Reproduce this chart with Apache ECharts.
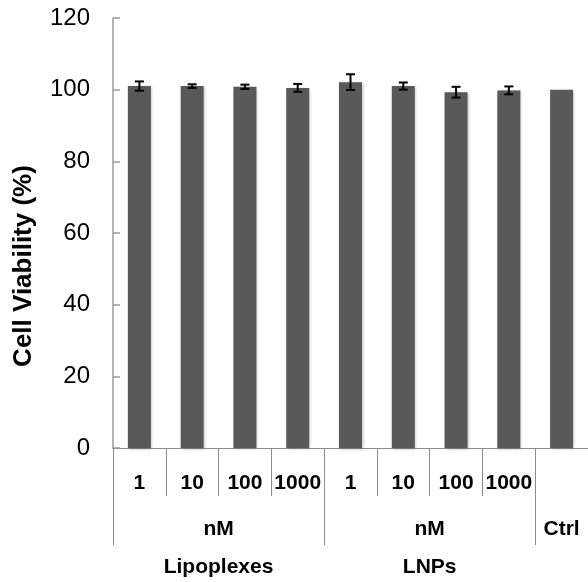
<!DOCTYPE html>
<html>
<head>
<meta charset="utf-8">
<script src="https://cdn.jsdelivr.net/npm/echarts@6/dist/echarts.min.js"></script>
<style>
html, body { margin: 0; padding: 0; background: #fff; }
#mychart { width: 588px; height: 582px; }
</style>
</head>
<body>
<div id="mychart"></div>
<script>
// 数据
const concLabels = ['1', '10', '100', '1000', '1', '10', '100', '1000', ''];
const viability = [101.0, 101.0, 100.8, 100.5, 102.1, 101.0, 99.3, 99.8, 100.0];
const errors = [1.3, 0.5, 0.6, 1.1, 2.2, 1.0, 1.5, 1.1, 0];
const groupUnits = ['nM', 'nM', 'Ctrl'];
const groupNames = ['Lipoplexes', 'LNPs', ''];
const groupSizes = [4, 4, 1];
const yTicks = [0, 20, 40, 60, 80, 100, 120];

// 分组边界和中心
let groupEdges = [0];
let groupCenters = [];
groupSizes.forEach(s => {
    let start = groupEdges[groupEdges.length - 1];
    groupCenters.push(start + s / 2);
    groupEdges.push(start + s);
});
const nCat = concLabels.length;

let myEcharts = echarts.init(document.getElementById('mychart'));
const grey = '#8c8c8c';
const labelFont = 'Liberation Sans, Arial, sans-serif';

let option = {
    animation: false,
    grid: {
        left: 113,
        top: 18,
        bottom: 134,
        width: 479
    },
    xAxis: [
        {
            type: 'category',
            data: concLabels,
            axisLine: { lineStyle: { color: grey, width: 1 } },
            axisTick: { show: true, interval: 0, length: 48, lineStyle: { color: grey } },
            axisLabel: {
                interval: 0,
                margin: 25,
                color: '#000',
                fontSize: 21,
                fontWeight: 'bold',
                fontFamily: labelFont
            },
            splitLine: { show: false }
        },
        {
            type: 'value',
            min: 0,
            max: nCat,
            position: 'bottom',
            axisLine: { show: false },
            axisTick: { show: true, length: 97, customValues: groupEdges, lineStyle: { color: grey } },
            axisLabel: {
                customValues: groupCenters,
                margin: 71,
                color: '#000',
                fontSize: 21,
                fontWeight: 'bold',
                fontFamily: labelFont,
                formatter: v => groupUnits[groupCenters.indexOf(v)] || ''
            },
            splitLine: { show: false }
        },
        {
            type: 'value',
            min: 0,
            max: nCat,
            position: 'bottom',
            axisLine: { show: false },
            axisTick: { show: false },
            axisLabel: {
                customValues: groupCenters,
                margin: 109,
                color: '#000',
                fontSize: 21,
                fontWeight: 'bold',
                fontFamily: labelFont,
                formatter: v => groupNames[groupCenters.indexOf(v)] || ''
            },
            splitLine: { show: false }
        }
    ],
    yAxis: {
        type: 'value',
        min: 0,
        max: yTicks[yTicks.length - 1],
        interval: yTicks[1] - yTicks[0],
        name: 'Cell Viability (%)',
        nameLocation: 'middle',
        nameGap: 76,
        nameTextStyle: {
            color: '#000',
            fontSize: 26,
            fontWeight: 'bold',
            fontFamily: labelFont,
            padding: [0, 66, 0, 0]
        },
        axisLine: { show: true, lineStyle: { color: '#9a9a9a', width: 1.5 } },
        axisTick: { show: true, inside: true, length: 7, lineStyle: { color: '#9a9a9a', width: 1.5 } },
        axisLabel: {
            margin: 23,
            color: '#000',
            fontSize: 24,
            fontFamily: labelFont
        },
        splitLine: { show: false }
    },
    series: [
        {
            type: 'bar',
            xAxisIndex: 0,
            data: viability,
            barWidth: 23,
            itemStyle: {
                color: '#595959',
                shadowColor: 'rgba(0,0,0,0.25)',
                shadowBlur: 3,
                shadowOffsetX: 1,
                shadowOffsetY: 1
            }
        },
        {
            type: 'custom',
            xAxisIndex: 0,
            data: viability.map((v, i) => [i, v, errors[i]]),
            z: 10,
            renderItem: (params, api) => {
                let err = api.value(2);
                if (!err) return null;
                let top = api.coord([api.value(0), api.value(1) + err]);
                let bot = api.coord([api.value(0), api.value(1) - err]);
                let x = top[0], hw = 4.5;
                let style = { stroke: '#000', lineWidth: 2 };
                return {
                    type: 'group',
                    children: [
                        { type: 'line', shape: { x1: x, y1: top[1], x2: x, y2: bot[1] }, style: style },
                        { type: 'line', shape: { x1: x - hw, y1: top[1], x2: x + hw, y2: top[1] }, style: style },
                        { type: 'line', shape: { x1: x - hw, y1: bot[1], x2: x + hw, y2: bot[1] }, style: style }
                    ]
                };
            }
        }
    ]
};

myEcharts.setOption(option);
</script>
</body>
</html>
